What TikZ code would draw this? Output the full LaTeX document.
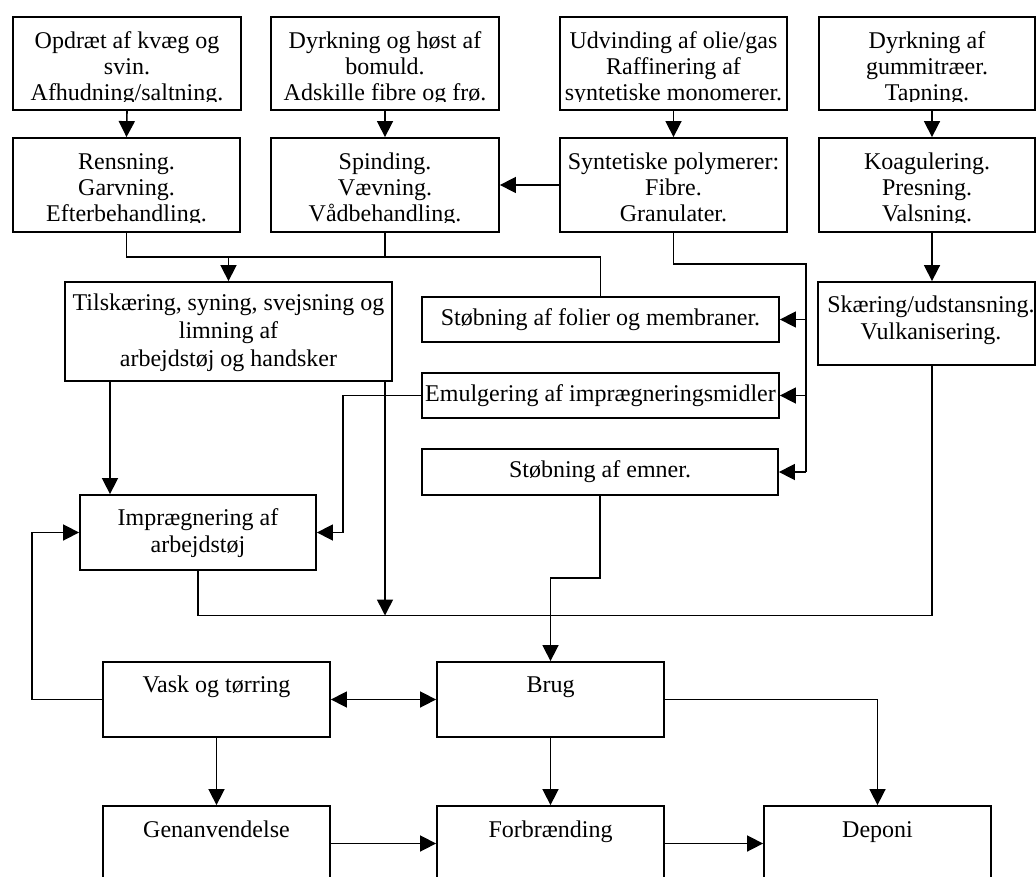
\documentclass[tikz,border=0pt]{standalone}
\usepackage{fontspec}
\setmainfont{Liberation Serif}
\usetikzlibrary{arrows.meta}
\begin{document}
\begin{tikzpicture}[x=1pt,y=-1pt,
  box/.style={draw, line width=1.8pt, inner sep=0pt, rectangle},
  txt/.style={font=\fontsize{24}{26.2}\selectfont, align=center, inner sep=0pt, anchor=north},
  txtw/.style={font=\fontsize{24}{27.5}\selectfont, align=center, inner sep=0pt, anchor=north},
  conn/.style={line width=1.6pt},
  arr/.style={conn, -{Triangle[length=16pt,width=16pt]}},
  darr/.style={conn, {Triangle[length=16pt,width=16pt]}-{Triangle[length=16pt,width=16pt]}}]
\useasboundingbox (0,0) rectangle (1036,877);

% ---------- boxes ----------
\node[box, minimum width=228pt, minimum height=93pt] (A1) at (127,63.5) {};
\node[box, minimum width=228pt, minimum height=93pt] (A2) at (385,63.5) {};
\node[box, minimum width=227pt, minimum height=93pt] (A3) at (673.5,63.5) {};
\node[box, minimum width=216pt, minimum height=93pt] (A4) at (927,63.5) {};

\node[box, minimum width=227pt, minimum height=94pt] (B1) at (126.5,185) {};
\node[box, minimum width=228pt, minimum height=94pt] (B2) at (385,185) {};
\node[box, minimum width=227pt, minimum height=94pt] (B3) at (673.5,185) {};
\node[box, minimum width=216pt, minimum height=94pt] (B4) at (927,185) {};

\node[box, minimum width=327pt, minimum height=99pt] (C1) at (228.5,331.5) {};
\node[box, minimum width=357pt, minimum height=45pt] (D1) at (600.5,319.5) {};
\node[box, minimum width=357pt, minimum height=45pt] (D2) at (600.5,395.5) {};
\node[box, minimum width=356pt, minimum height=46pt] (D3) at (600,472) {};
\node[box, minimum width=217pt, minimum height=83pt] (E) at (926.5,323.5) {};
\node[box, minimum width=236pt, minimum height=75pt] (F) at (198,532.5) {};

\node[box, minimum width=227pt, minimum height=75pt] (G1) at (216.5,699.5) {};
\node[box, minimum width=227pt, minimum height=75pt] (G2) at (550.5,699.5) {};
\node[box, minimum width=227pt, minimum height=75pt] (H1) at (216.5,843.5) {};
\node[box, minimum width=227pt, minimum height=75pt] (H2) at (550.5,843.5) {};
\node[box, minimum width=227pt, minimum height=75pt] (H3) at (877.5,843.5) {};

% ---------- texts (top rows clipped like text boxes) ----------
\begin{scope}
\clip (15,19) rectangle (239,102);
\node[txt] (A1t) at (127,30) {\rule{0pt}{18pt}Opdræt af kvæg og\\svin.\\Afhudning/saltning.};
\end{scope}
\begin{scope}
\clip (273,19) rectangle (497,102);
\node[txt] (A2t) at (385,30) {\rule{0pt}{18pt}Dyrkning og høst af\\bomuld.\\Adskille fibre og frø.};
\end{scope}
\begin{scope}
\clip (562,19) rectangle (785,102);
\node[txt] (A3t) at (673.5,30) {\rule{0pt}{18pt}Udvinding af olie/gas\\Raffinering af\\syntetiske monomerer.};
\end{scope}
\begin{scope}
\clip (821,19) rectangle (1033,102);
\node[txt] (A4t) at (927,30) {\rule{0pt}{18pt}Dyrkning af\\gummitræer.\\Tapning.};
\end{scope}

\begin{scope}
\clip (15,140) rectangle (238,223);
\node[txt] (B1t) at (126.5,151) {\rule{0pt}{18pt}Rensning.\\Garvning.\\Efterbehandling.};
\end{scope}
\begin{scope}
\clip (273,140) rectangle (497,223);
\node[txt] (B2t) at (385,151) {\rule{0pt}{18pt}Spinding.\\Vævning.\\Vådbehandling.};
\end{scope}
\begin{scope}
\clip (562,140) rectangle (785,223);
\node[txt] (B3t) at (673.5,151) {\rule{0pt}{18pt}Syntetiske polymerer:\\Fibre.\\Granulater.};
\end{scope}
\begin{scope}
\clip (821,140) rectangle (1033,223);
\node[txt] (B4t) at (927,151) {\rule{0pt}{18pt}Koagulering.\\Presning.\\Valsning.};
\end{scope}

\node[txt, font=\fontsize{24}{28}\selectfont] (C1t) at (228.5,292) {\rule{0pt}{18pt}Tilskæring, syning, svejsning og\\limning af\\arbejdstøj og handsker};
\node[txt] (D1t) at (600.5,307) {\rule{0pt}{18pt}Støbning af folier og membraner.};
\node[txt] (D2t) at (600.5,383) {\rule{0pt}{18pt}Emulgering af imprægneringsmidler};
\node[txt] (D3t) at (600,459.5) {\rule{0pt}{18pt}Støbning af emner.};
\node[txtw] (Et) at (931,294) {\rule{0pt}{18pt}Skæring/udstansning.\\Vulkanisering.};
\node[txtw] (Ft) at (198,507) {\rule{0pt}{18pt}Imprægnering af\\arbejdstøj};
\node[txt] (G1t) at (216.5,674) {\rule{0pt}{18pt}Vask og tørring};
\node[txt] (G2t) at (550.5,674) {\rule{0pt}{18pt}Brug};
\node[txt] (H1t) at (216.5,819) {\rule{0pt}{18pt}Genanvendelse};
\node[txt] (H2t) at (550.5,819) {\rule{0pt}{18pt}Forbrænding};
\node[txt] (H3t) at (877.5,819) {\rule{0pt}{18pt}Deponi};

% ---------- helper coordinates ----------
\coordinate (gx) at (932,0);
\coordinate (gl) at (110,0);
\coordinate (j1) at (600.5,257);
\coordinate (j2) at (806,264);
\coordinate (j3) at (550.5,615.5);
\coordinate (j4) at (550.5,578);
\coordinate (j5) at (343,0);
\coordinate (j6) at (32,0);

% ---------- connectors ----------
\draw[arr] (A1.south) -- (B1.north);
\draw[arr] (A2.south) -- (B2.north);
\draw[arr] (A3.south) -- (B3.north);
\draw[arr] (A4.south -| gx) -- (B4.north -| gx);
\draw[arr] (B3.west) -- (B2.east);

\draw[conn] (B1.south) |- (j1) -- (D1.north);
\draw[conn] (B2.south) -- (B2.south |- j1);
\draw[arr] (C1.north |- j1) -- (C1.north);

\draw[conn] (B3.south) |- (j2) -- (j2 |- D3.east);
\draw[arr] (j2 |- D1.east) -- (D1.east);
\draw[arr] (j2 |- D2.east) -- (D2.east);
\draw[arr] (j2 |- D3.east) -- (D3.east);

\draw[arr] (B4.south -| gx) -- (E.north -| gx);
\draw[conn] (E.south -| gx) |- (j3);
\draw[arr] (D3.south) |- (j4) -- (G2.north);

\draw[arr] (C1.south -| gl) -- (F.north -| gl);
\draw[arr] (C1.south -| B2.south) -- (B2.south |- j3);
\draw[conn] (F.south) |- (j3);

\draw[arr] (D2.west) -| (j5 |- F.east) -- (F.east);
\draw[arr] (G1.west) -| (j6 |- F.west) -- (F.west);

\draw[darr] (G1.east) -- (G2.west);
\draw[arr] (G2.east) -| (H3.north);
\draw[arr] (G1.south) -- (H1.north);
\draw[arr] (G2.south) -- (H2.north);
\draw[arr] (H1.east) -- (H2.west);
\draw[arr] (H2.east) -- (H3.west);
\end{tikzpicture}
\end{document}
